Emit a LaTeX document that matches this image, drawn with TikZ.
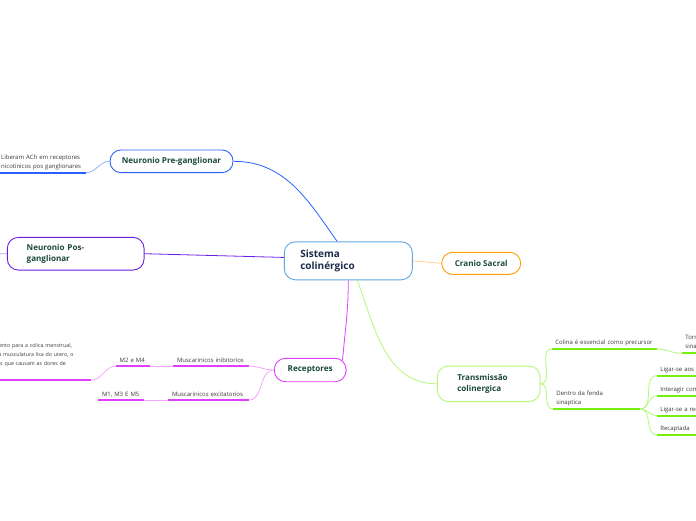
\documentclass[tikz,border=0pt]{standalone}
\usepackage{fontspec}
\setmainfont{Open Sans}
\usepackage{xcolor}
\usepackage{tikz}
\usetikzlibrary{positioning}

\definecolor{csys}{HTML}{62A6E2}
\definecolor{cnavy}{HTML}{1C2B4A}
\definecolor{cgreen}{HTML}{1B4A38}
\definecolor{cgrey}{HTML}{3A3A3A}
\definecolor{cblue}{HTML}{2962FF}
\definecolor{cbluel}{HTML}{8FB1FF}
\definecolor{cpurple}{HTML}{6A1FE8}
\definecolor{cpurplel}{HTML}{B9A2FA}
\definecolor{corange}{HTML}{FFA000}
\definecolor{corangel}{HTML}{FFD28F}
\definecolor{cmag}{HTML}{E040FB}
\definecolor{cmagl}{HTML}{F3A6FD}
\definecolor{clime}{HTML}{76F00A}
\definecolor{climel}{HTML}{B4F77A}

\begin{document}
\begin{tikzpicture}[x=1pt, y=-1pt,
  topic/.style={draw, rounded corners=11pt, line width=0.9pt, fill=white, inner sep=0pt,
    font=\fontsize{8.1}{11.2}\selectfont\bfseries, text=cgreen, align=center},
  leaf/.style={anchor=south west, inner xsep=3.5pt, inner ysep=3pt, align=left,
    font=\fontsize{6}{9}\selectfont, text=cgrey},
  branch/.style={line width=0.8pt},
  uline/.style={line width=1.8pt},
  ]
\useasboundingbox (0,0) rectangle (696,520);
\clip (0,0) rectangle (696,520);
\fill[white] (0,0) rectangle (696,520);

  \node[topic, draw=csys, text=cnavy, font=\fontsize{10}{12.7}\selectfont\bfseries,
    minimum width=128pt, minimum height=38pt, text width=96pt, align=left] (sys) at (348.3,260.8) {Sistema\\colinérgico};
  \node[topic, draw=cblue, minimum width=123pt, minimum height=22.7pt] (pre) at (171.5,161.3) {Neuronio Pre-ganglionar};
  \node[topic, draw=cpurple, minimum width=136.7pt, minimum height=32.7pt, text width=98pt, align=left] (pos) at (75.7,253.7) {Neuronio Pos-\\ganglionar};
  \node[topic, draw=corange, minimum width=79pt, minimum height=22pt] (cranio) at (481.2,263.3) {Cranio Sacral};
  \node[topic, draw=cmag, minimum width=71.7pt, minimum height=23.4pt] (rec) at (310.2,370) {Receptores};
  \node[topic, draw=climel, minimum width=102.7pt, minimum height=35.5pt, text width=62.8pt, align=left] (trans) at (488.7,383.8) {Transmissão\\colinergica};

  \node[leaf, text width=81pt] (lib) at (-2.5,172.7) {Liberam ACh em receptores\\nicotinicos pos ganglionares};
  \coordinate (posend) at (-6,254);

  \node[leaf, text width=68pt] (mi) at (173.3,366) {Muscarinicos inibitorios};
  \node[leaf, text width=26.3pt] (m24) at (116,366) {M2 e M4};
  \node[leaf, text width=73pt] (me) at (168.3,400) {Muscarinicos excitatorios};
  \node[leaf, text width=38.7pt] (m135) at (98.3,400) {M1, M3 E M5};
  \node[leaf, anchor=south east, font=\fontsize{5.3}{9}\selectfont, text width=106pt, minimum height=50pt] (trat) at (91.3,380) {Tratamento para a colica menstrual,\\relaxa a musculatura lisa do utero, o\\e colicas que causam as dores de};

  \node[leaf, text width=98pt] (colina) at (551.7,349) {Colina é essencial como precursor};
  \node[leaf, text width=60pt] (tor) at (681.7,353.3) {Tornar possível a\\sinapse};
  \node[leaf, text width=80.3pt] (dentro) at (552.7,409) {Dentro da fenda\\sinaptica};
  \node[leaf, text width=80pt] (lig1) at (656.7,375.7) {Ligar-se aos receptores};
  \node[leaf, text width=80pt] (lig2) at (656.7,395.7) {Interagir com a enzima};
  \node[leaf, text width=80pt] (lig3) at (656.7,415.7) {Ligar-se a receptores};
  \node[leaf, text width=80pt] (recap) at (656.7,435) {Recaptada};

  \draw[cblue, branch] (pre.east) to[out=0, in=125] (sys.120);
  \draw[cbluel, branch] (pre.west) to[out=180, in=0] (lib.south east);
  \draw[cblue, uline] (lib.south west) -- (lib.south east);

  \draw[cpurple, branch] (pos.east) -- (sys.177);
  \draw[cpurplel, branch] (pos.west) -- (posend);

  \draw[corangel, branch] (sys.east) -- (cranio.west);

  \draw[cmag, branch] (sys.south) to[out=-90, in=85] ([xshift=-4pt, yshift=-2.5pt]rec.north east);
  \draw[cmagl, branch] (rec.west) to[out=180, in=0] (mi.south east);
  \draw[cmagl, branch] (rec.west) to[out=180, in=0] (me.south east);
  \draw[cmagl, branch] (mi.south west) -- (m24.south east);
  \draw[cmagl, branch] (me.south west) -- (m135.south east);
  \draw[cmagl, branch] (m24.south west) to[out=180, in=0] (trat.south east);
  \foreach \n in {mi, m24, me, m135, trat}
    \draw[cmag, uline] (\n.south west) -- (\n.south east);

  \draw[climel, branch] (sys.-65) to[out=-70, in=180] (trans.west);
  \draw[climel, branch] (trans.east) to[out=0, in=180] (colina.south west);
  \draw[climel, branch] (trans.east) to[out=0, in=180] (dentro.south west);
  \draw[climel, branch] (colina.south east) to[out=0, in=180] (tor.south west);
  \foreach \n in {lig1, lig2, lig3, recap}
    \draw[climel, branch] (dentro.south east) to[out=0, in=180] (\n.south west);
  \foreach \n in {colina, tor, dentro, lig1, lig2, lig3, recap}
    \draw[clime, uline] (\n.south west) -- (\n.south east);

\end{tikzpicture}
\end{document}
